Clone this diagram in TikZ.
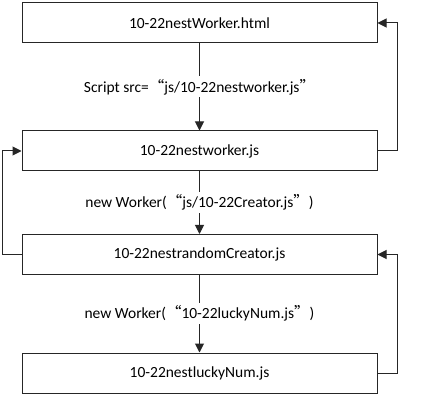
\documentclass[tikz,border=0pt]{standalone}
\usepackage{fontspec}
\setmainfont{Carlito}
\newfontfamily\cjk{Noto Sans CJK SC}
\usetikzlibrary{arrows.meta}
\begin{document}
\begin{tikzpicture}[x=1pt,y=-1pt,
  every node/.style={font=\fontsize{15.5}{17}\selectfont},
  filebox/.style={draw=black!85,line width=1pt,minimum width=355pt,minimum height=40pt,inner sep=0pt},
  conn/.style={draw=black!85,line width=1pt,-{Triangle[length=9pt,width=9pt]}},
  lab/.style={fill=white,inner sep=2pt,minimum height=21pt}]
\useasboundingbox (0,0) rectangle (429,417);
\node[filebox] (html) at (199.5,23) {10-22nestWorker.html};
\node[filebox] (nw) at (199.5,151) {10-22nestworker.js};
\node[filebox] (rc) at (199.5,254.5) {10-22nestrandomCreator.js};
\node[filebox] (ln) at (199.5,373) {10-22nestluckyNum.js};
\draw[conn] (html) -- node[lab] (l1) {Script src={\cjk “}js/10-22nestworker.js{\cjk ”}} (nw);
\draw[conn] (nw) -- node[lab] (l2) {new Worker({\cjk “}js/10-22Creator.js{\cjk ”})} (rc);
\draw[conn] (rc) -- node[lab] (l3) {new Worker({\cjk “}10-22luckyNum.js{\cjk ”})} (ln);
\draw[conn] (nw.east) -| (397,23) -- (html.east);
\draw[conn] (rc.west) -| (2,151) -- (nw.west);
\draw[conn] (ln.east) -| (397,254.5) -- (rc.east);
\end{tikzpicture}
\end{document}
